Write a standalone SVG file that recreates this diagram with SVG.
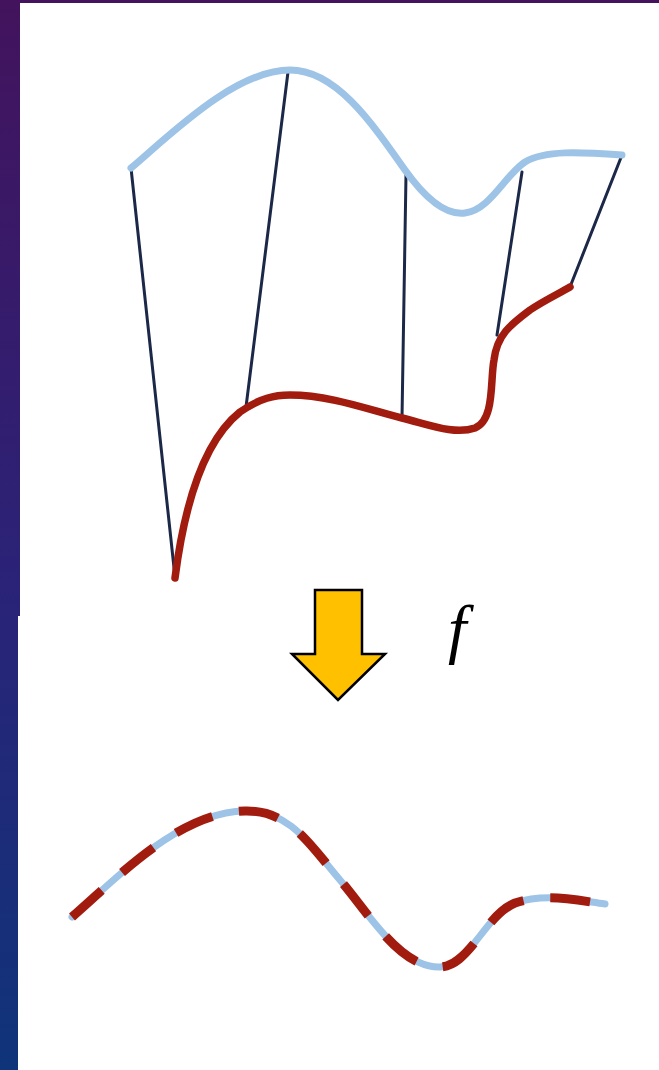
<svg xmlns="http://www.w3.org/2000/svg" width="659" height="1070" viewBox="0 0 659 1070">
  <defs>
    <linearGradient id="bg" x1="0" y1="0" x2="0" y2="1">
      <stop offset="0" stop-color="#43135d"/>
      <stop offset="0.55" stop-color="#2a2378"/>
      <stop offset="1" stop-color="#0f3479"/>
    </linearGradient>
    <style>
      .rung { stroke: #1c2847; stroke-width: 3; fill: none; stroke-linecap: round; }
      .blue { stroke: #9dc3e6; stroke-width: 7; fill: none; stroke-linecap: round; }
      .red { stroke: #a11c0e; stroke-width: 7.5; fill: none; stroke-linecap: round; }
      .dash { stroke: #a11c0e; stroke-width: 9; fill: none; stroke-dasharray: 40 27; }
    </style>
  </defs>
  <rect x="0" y="0" width="659" height="1070" fill="url(#bg)"/>
  <rect x="20" y="3" width="639" height="613" fill="#ffffff"/>
  <rect x="18" y="616" width="641" height="454" fill="#ffffff"/>

  <g id="connectors">
    <line class="rung" x1="131" y1="168" x2="175" y2="577"/>
    <line class="rung" x1="288" y1="72" x2="246" y2="407"/>
    <line class="rung" x1="406" y1="175" x2="402" y2="418"/>
    <line class="rung" x1="522" y1="172" x2="497" y2="335"/>
    <line class="rung" x1="622" y1="155" x2="570" y2="287"/>
  </g>

  <g id="upper-curve">
    <path class="blue" d="M131,168 C170,135 235,70 290,70 C335,70 370,120 405,170 C430,205 450,215 465,213 C490,210 505,175 525,162 C545,150 580,152 622,155"/>
  </g>

  <g id="lower-curve">
    <path class="red" d="M175,578 C185,500 205,440 240,412 C260,398 275,395 290,395 C330,395 370,410 402,418 C430,425 455,435 475,428 C495,420 490,380 494,360 C497,335 510,325 530,310 C545,300 560,293 570,287"/>
  </g>

  <g id="arrow">
    <polygon points="315,590 362,590 362,654 385,654 338,700 292,654 315,654" fill="#ffc000" stroke="#000000" stroke-width="2.5" stroke-linejoin="miter"/>
  </g>

  <g id="label-f">
    <text x="448" y="651" font-family="Liberation Serif, serif" font-style="italic" font-size="66" fill="#000000">f</text>
  </g>

  <g id="mapped-curve">
    <path class="blue" d="M72,917 C120,875 180,812 245,811 C290,810 310,845 340,880 C370,915 400,968 440,967 C470,966 485,915 515,903 C545,893 575,900 605,904"/>
    <path class="dash" d="M72,917 C120,875 180,812 245,811 C290,810 310,845 340,880 C370,915 400,968 440,967 C470,966 485,915 515,903 C545,893 575,900 605,904"/>
  </g>
</svg>
